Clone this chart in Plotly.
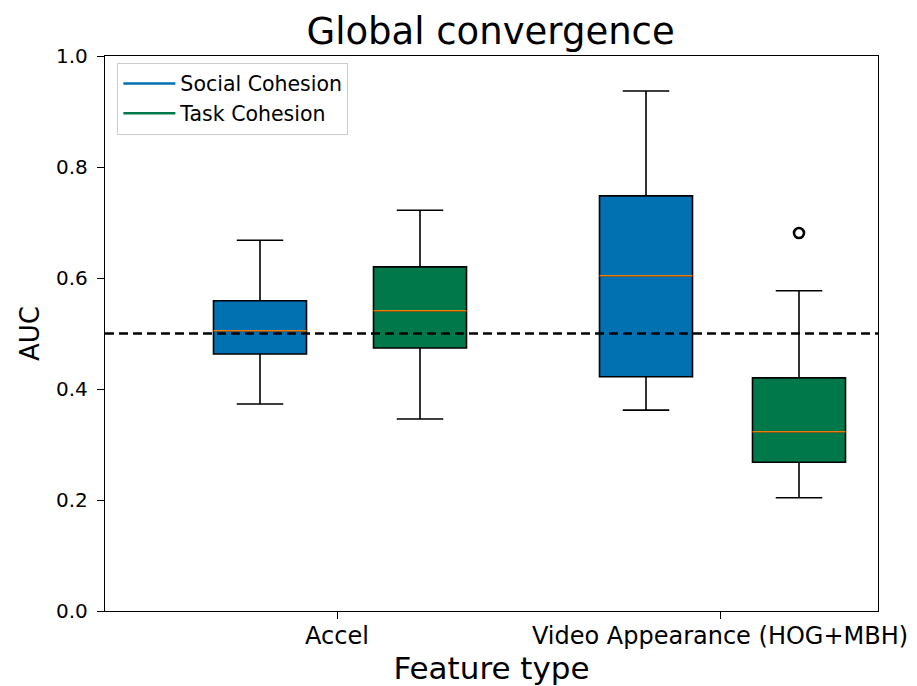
import plotly.graph_objects as go

# ---- data ----
categories = ["Accel", "Video Appearance (HOG+MBH)"]
series_names = ["Social Cohesion", "Task Cohesion"]
# per category: [Accel, Video]
social_low = [0.373, 0.362]
social_q1 = [0.463, 0.422]
social_med = [0.505, 0.604]
social_q3 = [0.559, 0.748]
social_high = [0.668, 0.937]

task_low = [0.346, 0.204]
task_q1 = [0.474, 0.268]
task_med = [0.541, 0.323]
task_q3 = [0.620, 0.420]
task_high = [0.722, 0.577]

task_outliers_x = [1]      # category index
task_outliers_y = [0.681]

baseline = 0.5
yticks = [0.0, 0.2, 0.4, 0.6, 0.8, 1.0]

# ---- layout positions ----
social_pos = [1.55, 5.41]
task_pos = [3.15, 6.94]
tick_pos = [2.32, 6.15]
box_w = 0.93
xrange = [0, 7.73]

blue = "rgb(2,113,178)"
green = "rgb(1,120,73)"
orange = "#e87d0e"

fig = go.Figure()

def add_boxes(pos, low, q1, med, q3, high, color, name):
    fig.add_trace(go.Box(
        x=pos, q1=q1, median=med, q3=q3, lowerfence=low, upperfence=high,
        fillcolor=color, line=dict(color="black", width=1.6),
        width=box_w, whiskerwidth=0.5, boxpoints=False,
        showlegend=False, name=name, hoverinfo="skip"))
    for p, m in zip(pos, med):
        fig.add_trace(go.Scatter(
            x=[p - box_w / 2, p + box_w / 2], y=[m, m], mode="lines",
            line=dict(color=orange, width=1.6), showlegend=False, hoverinfo="skip"))

add_boxes(social_pos, social_low, social_q1, social_med, social_q3, social_high, blue, series_names[0])
add_boxes(task_pos, task_low, task_q1, task_med, task_q3, task_high, green, series_names[1])

fig.add_trace(go.Scatter(
    x=[task_pos[i] for i in task_outliers_x], y=task_outliers_y, mode="markers",
    marker=dict(symbol="circle-open", size=10, color="black", line=dict(width=2.6)),
    showlegend=False, hoverinfo="skip"))

# legend entries
for nm, c in zip(series_names, [blue, green]):
    fig.add_trace(go.Scatter(x=[None], y=[None], mode="lines", name=nm,
                             line=dict(color=c, width=2.5)))

fig.add_shape(type="line", xref="paper", x0=0, x1=1, yref="y", y0=baseline, y1=baseline,
              line=dict(color="black", width=2.5, dash="9px,5px"))

font = "DejaVu Sans"
fig.update_layout(
    width=917, height=686,
    margin=dict(l=105, r=39, t=56, b=75),
    paper_bgcolor="white", plot_bgcolor="white",
    font=dict(family=font, color="black", size=17),
    title=dict(text="Global convergence", x=0.535, xanchor="center", y=0.955, yanchor="middle",
               font=dict(size=37, family=font)),
    showlegend=True,
    legend=dict(x=0.016, y=0.988, xanchor="left", yanchor="top",
                bgcolor="white", bordercolor="#cccccc", borderwidth=1,
                font=dict(size=20.5), tracegroupgap=0, itemwidth=52),
    xaxis=dict(range=xrange, tickmode="array", tickvals=tick_pos, ticktext=categories,
               showgrid=False, zeroline=False, showline=True, linecolor="black", linewidth=1.3,
               mirror=True, ticks="outside", ticklen=7, tickcolor="black",
               tickfont=dict(size=24), ticklabelstandoff=-4, automargin=False,
               title=dict(text="Feature type", font=dict(size=31), standoff=4)),
    yaxis=dict(range=[0, 1], tickmode="array", tickvals=yticks,
               ticktext=[f"{v:.1f}" for v in yticks],
               showgrid=False, zeroline=False, showline=True, linecolor="black", linewidth=1.3,
               mirror=True, ticks="outside", ticklen=7, tickcolor="black",
               tickfont=dict(size=20), ticklabelstandoff=5, automargin=False,
               title=dict(text="AUC", font=dict(size=26), standoff=8)),
)

fig.write_html("out.html")
